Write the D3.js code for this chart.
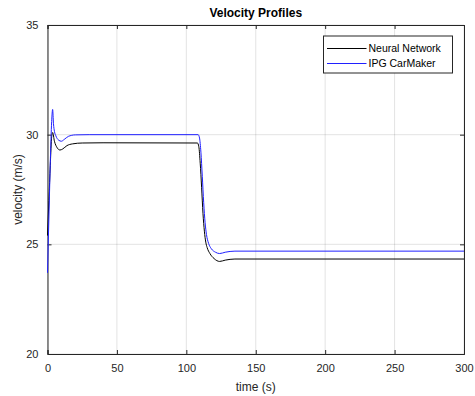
<!DOCTYPE html>
<html>
<head>
<title>Velocity Profiles</title>
<style>
  body { margin: 0; overflow: hidden; background-color: #ffffff; }
  svg { display: block; font-family: "Liberation Sans", Arial, sans-serif; }
  .grid line { stroke: #262626; stroke-opacity: 0.13; stroke-width: 1; }
  .tick text { fill: #262626; font-size: 11px; }
</style>
</head>
<body>

<svg id="chart"></svg>

<script src="https://cdnjs.cloudflare.com/ajax/libs/d3/7.8.5/d3.min.js"></script>
<script>
  // data
  const nnTime = [0, 1, 2, 3, 3.7, 5, 7, 9, 11, 14, 18, 25, 40, 108, 109, 110, 111, 112, 113, 114, 115, 117, 120, 124, 128, 135, 300];
  const nnSpeed = [25.4, 27.0, 28.6, 29.9, 30.1, 29.7, 29.4, 29.3, 29.35, 29.5, 29.58, 29.62, 29.63, 29.62, 29.45, 28.7, 27.6, 26.4, 25.6, 25.1, 24.85, 24.58, 24.35, 24.22, 24.28, 24.33, 24.33];

  const ipgTime = [0, 1, 2, 3, 3.7, 4.3, 5, 6, 8, 10, 12, 15, 20, 30, 108.5, 109.5, 110.5, 111.5, 112.5, 113.5, 114.5, 116, 118, 121, 124, 128, 135, 300];
  const ipgSpeed = [23.7, 26.2, 28.7, 30.6, 31.15, 30.5, 30.15, 29.95, 29.75, 29.7, 29.78, 29.92, 29.99, 30.0, 30.0, 29.85, 29.2, 28.1, 26.9, 26.0, 25.45, 25.05, 24.8, 24.64, 24.58, 24.64, 24.69, 24.69];

  const xTicks = [0, 50, 100, 150, 200, 250, 300];
  const yTicks = [20, 25, 30, 35];

  const seriesNames = ["Neural Network", "IPG CarMaker"];
  const seriesColors = ["#000000", "#2020ff"];

  const width = 475, height = 396;
  const margin = { top: 25, right: 11, bottom: 42, left: 47.5 };
  const innerW = width - margin.left - margin.right;
  const innerH = height - margin.top - margin.bottom;

  const svg = d3.select("#chart").attr("width", width).attr("height", height);
  const g = svg.append("g").attr("transform", `translate(${margin.left},${margin.top})`);

  const x = d3.scaleLinear().domain([0, 300]).range([0, innerW]);
  const y = d3.scaleLinear().domain([20, 35]).range([innerH, 0]);

  // grid
  g.append("g").attr("class", "grid")
    .selectAll("line.v").data(xTicks).enter().append("line")
    .attr("x1", d => x(d)).attr("x2", d => x(d)).attr("y1", 0).attr("y2", innerH);
  g.append("g").attr("class", "grid")
    .selectAll("line.h").data(yTicks).enter().append("line")
    .attr("x1", 0).attr("x2", innerW).attr("y1", d => y(d)).attr("y2", d => y(d));

  // axes (ticks inward, MATLAB style)
  const xAxis = g.append("g").attr("transform", `translate(0,${innerH})`)
    .call(d3.axisBottom(x).tickValues(xTicks).tickSize(-4).tickPadding(10));
  const xTop = g.append("g")
    .call(d3.axisTop(x).tickValues(xTicks).tickSize(-4).tickFormat(""));
  const yAxis = g.append("g")
    .call(d3.axisLeft(y).tickValues(yTicks).tickSize(-4).tickPadding(9));
  const yRight = g.append("g").attr("transform", `translate(${innerW},0)`)
    .call(d3.axisRight(y).tickValues(yTicks).tickSize(-4).tickFormat(""));

  [xAxis, xTop, yAxis, yRight].forEach(a => {
    a.select(".domain").attr("stroke", "#262626").attr("stroke-width", 1);
    a.selectAll(".tick line").attr("stroke", "#262626");
  });

  // lines
  const line = d3.line().x(d => x(d[0])).y(d => y(d[1])).curve(d3.curveMonotoneX);
  const series = [d3.zip(nnTime, nnSpeed), d3.zip(ipgTime, ipgSpeed)];

  g.append("g").selectAll("path.series").data(series).enter().append("path")
    .attr("class", "series")
    .attr("fill", "none")
    .attr("stroke", (d, i) => seriesColors[i])
    .attr("stroke-width", 1)
    .attr("d", line);

  // title & labels
  svg.append("text")
    .attr("x", margin.left + innerW / 2).attr("y", 17)
    .attr("text-anchor", "middle")
    .attr("font-size", 12).attr("font-weight", "bold").attr("fill", "#000")
    .text("Velocity Profiles");

  svg.append("text")
    .attr("x", margin.left + innerW / 2).attr("y", 391)
    .attr("text-anchor", "middle")
    .attr("font-size", 12).attr("fill", "#262626")
    .text("time (s)");

  svg.append("text")
    .attr("transform", `translate(22,${margin.top + innerH / 2}) rotate(-90)`)
    .attr("text-anchor", "middle")
    .attr("font-size", 12).attr("fill", "#262626")
    .text("velocity (m/s)");

  // legend
  const legend = svg.append("g").attr("transform", "translate(323.5,36)");
  legend.append("rect")
    .attr("width", 129).attr("height", 37)
    .attr("fill", "#fff").attr("stroke", "#262626").attr("stroke-width", 1);
  const items = seriesNames.map((name, i) => ({ name: name, color: seriesColors[i], row: i }));
  const item = legend.selectAll("g.item").data(items).enter().append("g")
    .attr("class", "item")
    .attr("transform", d => `translate(0,${12.5 + d.row * 15})`);
  item.append("line")
    .attr("x1", 3.5).attr("x2", 43)
    .attr("stroke", d => d.color).attr("stroke-width", 1);
  item.append("text")
    .attr("x", 45).attr("dy", "0.35em")
    .attr("font-size", 10.5).attr("fill", "#000")
    .text(d => d.name);
</script>

</body>
</html>
